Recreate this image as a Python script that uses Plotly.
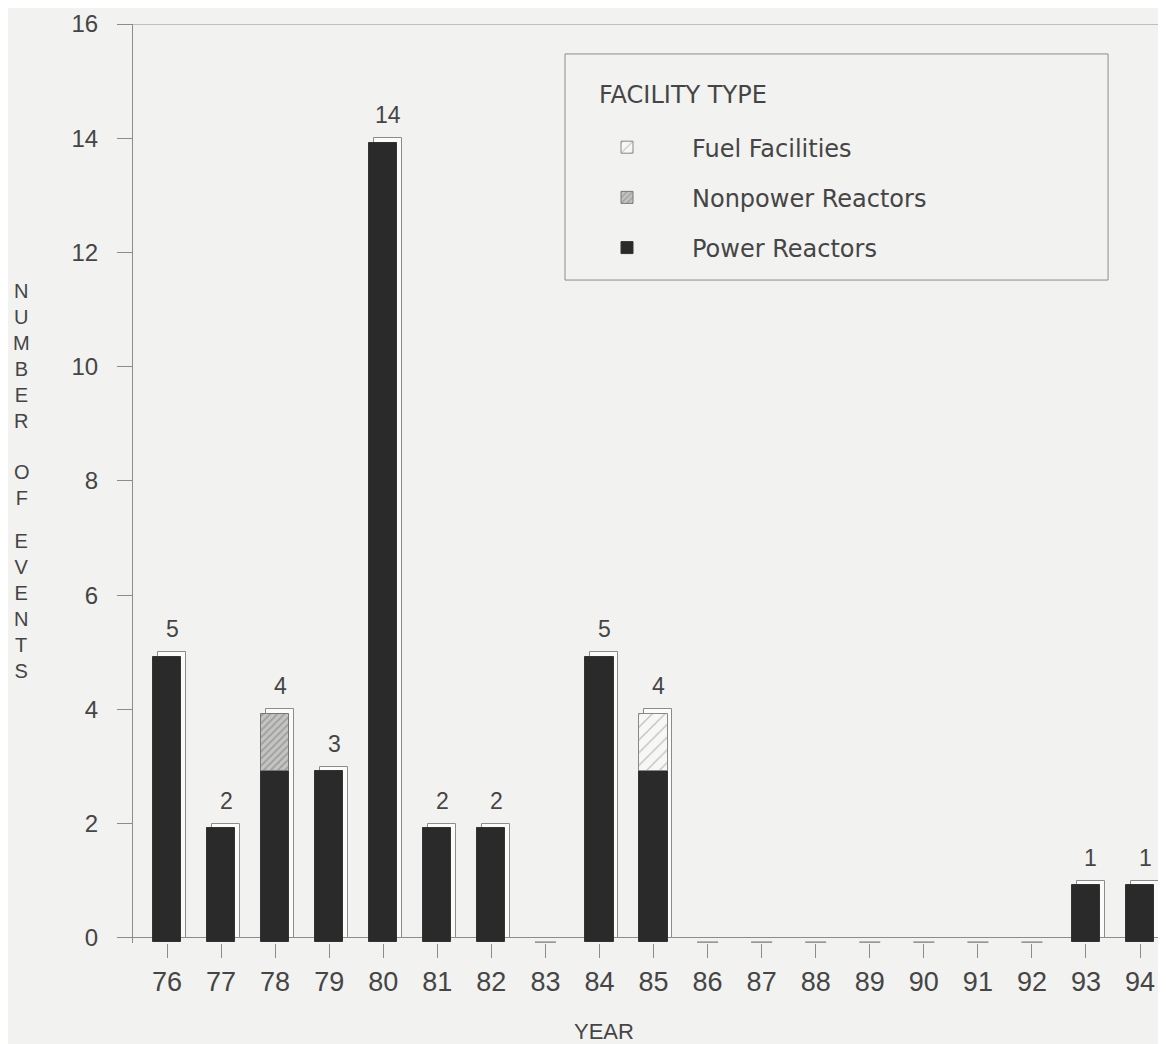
import plotly.graph_objects as go

# ---- data ----
years = ["76", "77", "78", "79", "80", "81", "82", "83", "84", "85",
         "86", "87", "88", "89", "90", "91", "92", "93", "94"]
power_reactors = [5, 2, 3, 3, 14, 2, 2, 0, 5, 3, 0, 0, 0, 0, 0, 0, 0, 1, 1]
nonpower_reactors = [0, 0, 1, 0, 0, 0, 0, 0, 0, 0, 0, 0, 0, 0, 0, 0, 0, 0, 0]
fuel_facilities = [0, 0, 0, 0, 0, 0, 0, 0, 0, 1, 0, 0, 0, 0, 0, 0, 0, 0, 0]
y_ticks = [0, 2, 4, 6, 8, 10, 12, 14, 16]

# ---- style ----
BG = "#f2f2f0"
INK = "#454545"
EDGE = "#8c8c8c"
DARK = "#2a2a2a"
DEPTH = 0.075      # 3-D drop of the front face (data units)
BAR_W = 0.52
FONT = "Liberation Sans, Arial, sans-serif"
LFONT = "DejaVu Sans, sans-serif"

xs = list(range(len(years)))
totals = [p + n + f for p, n, f in zip(power_reactors, nonpower_reactors, fuel_facilities)]


def nz(v):
    return [a if a > 0 else None for a in v]


fig = go.Figure()

# back (side/top) face of the 3-D bars
fig.add_trace(go.Bar(
    x=xs, y=nz(totals), base=0, width=BAR_W, offset=-BAR_W / 2 + 0.09,
    marker=dict(color="#fbfbfa", line=dict(color=EDGE, width=1)),
    showlegend=False, hoverinfo="skip"))

# front faces, stacked by hand
base_p = [-DEPTH] * len(xs)
base_n = [p - DEPTH for p in power_reactors]
base_f = [p + n - DEPTH for p, n in zip(power_reactors, nonpower_reactors)]

fig.add_trace(go.Bar(
    x=xs, y=nz(power_reactors), base=base_p, width=BAR_W, offset=-BAR_W / 2,
    name="Power Reactors", legendgroup="p", legendrank=3,
    marker=dict(color=DARK, line=dict(color="#333333", width=1))))
fig.add_trace(go.Bar(
    x=xs, y=nz(nonpower_reactors), base=base_n, width=BAR_W, offset=-BAR_W / 2,
    name="Nonpower Reactors", legendgroup="n", legendrank=2,
    marker=dict(color="#bdbdbb", line=dict(color="#777777", width=1),
                pattern=dict(shape="/", fgcolor="#7a7a7a", bgcolor="#c4c4c2",
                             size=5, solidity=0.35))))
fig.add_trace(go.Bar(
    x=xs, y=nz(fuel_facilities), base=base_f, width=BAR_W, offset=-BAR_W / 2,
    name="Fuel Facilities", legendgroup="f", legendrank=1,
    marker=dict(color="#f7f7f5", line=dict(color="#888888", width=1),
                pattern=dict(shape="/", fgcolor="#8a8a8a", bgcolor="#f7f7f5",
                             size=9, solidity=0.15))))

# little dashes for years with no events
zx = [x for x, t in zip(xs, totals) if t == 0]
fig.add_trace(go.Scatter(
    x=zx, y=[-DEPTH] * len(zx), mode="markers",
    marker=dict(symbol="line-ew-open", size=15, color=EDGE,
                line=dict(color=EDGE, width=1.5)),
    showlegend=False, hoverinfo="skip", cliponaxis=False))

annotations = []
for x, t in zip(xs, totals):
    if t > 0:
        annotations.append(dict(x=x, y=t, xref="x", yref="y", text=str(t),
                                showarrow=False, yanchor="bottom", xshift=5, yshift=8,
                                font=dict(family=FONT, size=23, color=INK)))

# stacked vertical y-axis title
for word, yc in (("NUMBER", 0.6387), ("OF", 0.4984), ("EVENTS", 0.3667)):
    annotations.append(dict(x=-0.1075, y=yc, xref="paper", yref="paper",
                            text="<br>".join(word), showarrow=False, align="center",
                            xanchor="center", yanchor="middle",
                            font=dict(family=FONT, size=20, color=INK)))

annotations.append(dict(x=0.456, y=-0.0958, xref="paper", yref="paper", text="YEAR",
                        showarrow=False, xanchor="center", yanchor="middle",
                        font=dict(family=FONT, size=22, color=INK)))

# legend heading
annotations.append(dict(x=0.449, y=0.9227, xref="paper", yref="paper",
                        text="FACILITY TYPE", showarrow=False,
                        xanchor="left", yanchor="middle",
                        font=dict(family=LFONT, size=24, color=INK)))

shapes = [
    dict(type="line", xref="paper", yref="y", x0=0, x1=1, y0=16, y1=16,
         line=dict(color=EDGE, width=1)),
    dict(type="rect", xref="paper", yref="paper", x0=0.4182, x1=0.9439,
         y0=0.7214, y1=0.9674, line=dict(color=EDGE, width=1)),
]

# the page body adds an 8px margin, so the figure is 8px smaller each way
fig.update_layout(
    width=1158, height=1036,
    margin=dict(l=125, r=0, t=16, b=101),
    paper_bgcolor=BG, plot_bgcolor=BG,
    barmode="overlay", bargap=0,
    font=dict(family=FONT, color=INK),
    annotations=annotations, shapes=shapes,
    legend=dict(x=0.4153, y=0.890, xanchor="left", yanchor="top",
                bgcolor="rgba(0,0,0,0)", borderwidth=0,
                font=dict(family=LFONT, size=24, color=INK),
                tracegroupgap=16, itemwidth=120),
    xaxis=dict(range=[-0.629, 18.48], tickmode="array", tickvals=xs, ticktext=years,
               ticks="outside", ticklen=14, tickcolor=EDGE, tickwidth=1,
               showline=False, showgrid=False, zeroline=False,
               ticklabelstandoff=1,
               tickfont=dict(family=FONT, size=27, color=INK)),
    yaxis=dict(range=[-0.09, 16], tickmode="array", tickvals=y_ticks,
               ticks="outside", ticklen=15, tickcolor=EDGE, tickwidth=1,
               showline=True, linecolor=EDGE, linewidth=1,
               showgrid=False, zeroline=True, zerolinecolor=EDGE, zerolinewidth=1,
               ticklabelstandoff=14,
               tickfont=dict(family=FONT, size=24, color=INK)),
)

fig.write_html("out.html")
